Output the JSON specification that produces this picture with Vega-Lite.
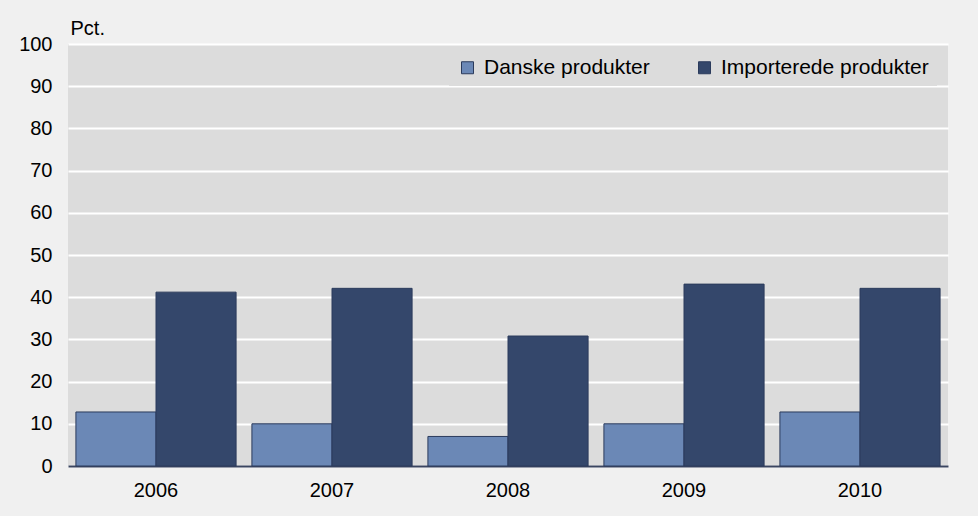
{
  "$schema": "https://vega.github.io/schema/vega-lite/v6.json",
  "width": 880,
  "height": 422,
  "autosize": {"type": "none"},
  "padding": {"left": 68, "top": 44, "right": 30, "bottom": 50},
  "background": "#f0f0f0",
  "config": {
    "view": {"fill": "#dcdcdc", "stroke": null},
    "font": "Liberation Sans",
    "axis": {"labelFont": "Liberation Sans", "labelColor": "#000000", "titleFont": "Liberation Sans"}
  },
  "data": {
    "values": [
      {"year": "2006", "serie": "Danske produkter", "value": 12.8},
      {"year": "2006", "serie": "Importerede produkter", "value": 41.2},
      {"year": "2007", "serie": "Danske produkter", "value": 10.0},
      {"year": "2007", "serie": "Importerede produkter", "value": 42.1},
      {"year": "2008", "serie": "Danske produkter", "value": 7.0},
      {"year": "2008", "serie": "Importerede produkter", "value": 30.8},
      {"year": "2009", "serie": "Danske produkter", "value": 10.0},
      {"year": "2009", "serie": "Importerede produkter", "value": 43.1},
      {"year": "2010", "serie": "Danske produkter", "value": 12.8},
      {"year": "2010", "serie": "Importerede produkter", "value": 42.1}
    ]
  },
  "mark": {"type": "bar", "stroke": "#2b3b5c", "strokeWidth": 1},
  "encoding": {
    "x": {
      "field": "year", "type": "nominal",
      "scale": {"paddingInner": 0.09, "paddingOuter": 0.045},
      "axis": {
        "title": null, "labelAngle": 0, "labelFontSize": 20, "labelPadding": 14,
        "ticks": false, "domainColor": "#3a4560", "domainWidth": 2, "grid": false
      }
    },
    "xOffset": {"field": "serie", "type": "nominal", "scale": {"paddingInner": 0, "paddingOuter": 0}},
    "y": {
      "field": "value", "type": "quantitative",
      "scale": {"domain": [0, 100], "nice": false},
      "axis": {
        "title": "Pct.", "titleAngle": 0, "titleAlign": "left", "titleBaseline": "alphabetic",
        "titleX": 2, "titleY": -10, "titleFontSize": 20, "titleFontWeight": "normal", "titleColor": "#000000",
        "values": [0, 10, 20, 30, 40, 50, 60, 70, 80, 90, 100],
        "labelFontSize": 20, "labelPadding": 16, "ticks": false, "domain": false,
        "gridColor": "#ffffff", "gridWidth": 2, "gridOpacity": 1
      }
    },
    "color": {
      "field": "serie", "type": "nominal",
      "scale": {"domain": ["Danske produkter", "Importerede produkter"], "range": ["#6b88b6", "#34476b"]},
      "legend": {
        "title": null, "orient": "none", "direction": "horizontal",
        "legendX": 381, "legendY": 5, "padding": 8,
        "fillColor": "#dcdcdc", "symbolType": "square", "symbolSize": 144,
        "symbolStrokeColor": "#2b3b5c", "symbolStrokeWidth": 1, "symbolOpacity": 1,
        "labelFontSize": 21, "labelFont": "Liberation Sans", "labelColor": "#000000",
        "labelLimit": 0, "labelOffset": 6, "columnPadding": 44
      }
    }
  }
}
